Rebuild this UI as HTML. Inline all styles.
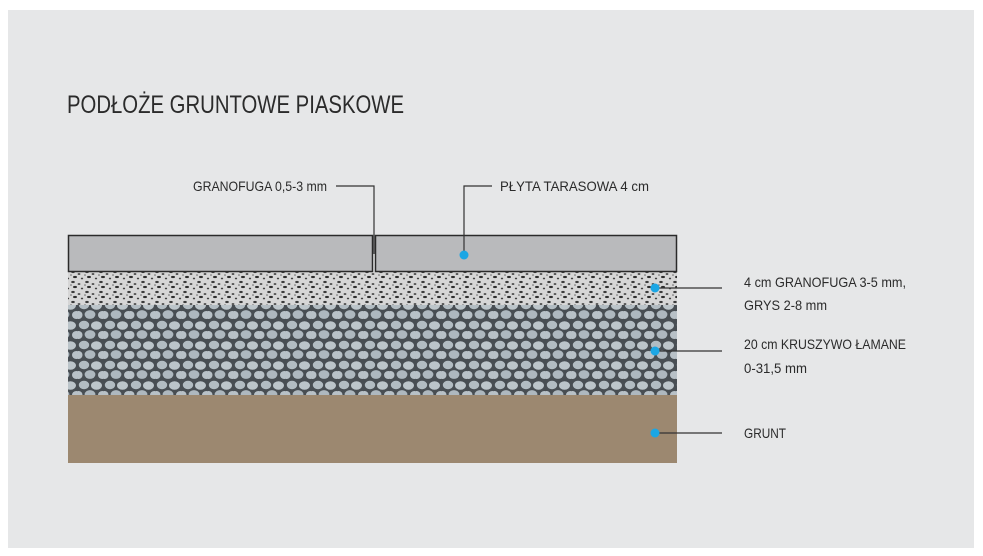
<!DOCTYPE html>
<html><head><meta charset="utf-8"><style>
html,body{margin:0;padding:0;background:#fff;}
svg{display:block}
text{font-family:"Liberation Sans",sans-serif;fill:#2b2b2b}
</style></head><body>
<svg width="983" height="556" viewBox="0 0 983 556" xmlns="http://www.w3.org/2000/svg">
<defs>
<pattern id="fine" width="14" height="10" patternUnits="userSpaceOnUse">
<rect width="14" height="10" fill="#d6d6d6"/>
<ellipse cx="3" cy="2" rx="1.8" ry="1.1" fill="#3a3a3a"/>
<ellipse cx="9" cy="4" rx="1.4" ry="1" fill="#555"/>
<ellipse cx="5" cy="7" rx="2" ry="1.1" fill="#2e2e2e"/>
<ellipse cx="12" cy="8.5" rx="1.2" ry="0.9" fill="#444"/>
<circle cx="1" cy="5" r="0.8" fill="#666"/>
</pattern>
<pattern id="coarse" width="26" height="20" patternUnits="userSpaceOnUse">
<rect width="26" height="20" fill="#484e53"/>
<ellipse cx="6" cy="5" rx="5.2" ry="4.2" fill="#b2bcc2"/>
<ellipse cx="18.5" cy="5.5" rx="5.5" ry="4.3" fill="#bcc5ca"/>
<ellipse cx="12" cy="14.5" rx="5.4" ry="4.4" fill="#aeb8bf"/>
<ellipse cx="24.5" cy="15" rx="4.5" ry="4" fill="#b8c1c7"/>
<ellipse cx="0.5" cy="15" rx="4" ry="4" fill="#b8c1c7"/>
</pattern>
</defs>
<rect width="983" height="556" fill="#fff"/>
<rect x="8" y="10" width="966" height="538" fill="#e6e7e8"/>
<text x="67" y="113" font-size="25" textLength="337" lengthAdjust="spacingAndGlyphs">PODŁOŻE GRUNTOWE PIASKOWE</text>

<rect x="68" y="272" width="609" height="34" fill="url(#fine)"/>
<rect x="68" y="305" width="609" height="90" fill="url(#coarse)"/>
<rect x="68" y="395" width="609" height="68" fill="#9c8870"/>
<rect x="68.5" y="235.5" width="304" height="36" fill="#b9babc" stroke="#2a2a2a" stroke-width="1.5"/>
<rect x="375.5" y="235.5" width="301" height="36" fill="#b9babc" stroke="#2a2a2a" stroke-width="1.5"/>

<g stroke="#333" stroke-width="1.2" fill="none">
<polyline points="336,186 374,186 374,254"/>
<polyline points="492,186 464,186 464,255"/>
<line x1="655" y1="288" x2="722" y2="288"/>
<line x1="655" y1="351" x2="722" y2="351"/>
<line x1="655" y1="433" x2="722" y2="433"/>
</g>
<g fill="#1ba6e4">
<circle cx="464" cy="255" r="4.5"/>
<circle cx="655" cy="288" r="4.5"/>
<circle cx="655" cy="351" r="4.5"/>
<circle cx="655" cy="433" r="4.5"/>
</g>
<g font-size="14">
<text x="193" y="191" textLength="134" lengthAdjust="spacingAndGlyphs">GRANOFUGA 0,5-3 mm</text>
<text x="500" y="191" textLength="149" lengthAdjust="spacingAndGlyphs">PŁYTA TARASOWA 4 cm</text>
<text x="744" y="287" textLength="162" lengthAdjust="spacingAndGlyphs">4 cm GRANOFUGA 3-5 mm,</text>
<text x="744" y="310" textLength="83" lengthAdjust="spacingAndGlyphs">GRYS 2-8 mm</text>
<text x="744" y="349" textLength="162" lengthAdjust="spacingAndGlyphs">20 cm KRUSZYWO ŁAMANE</text>
<text x="744" y="373" textLength="63" lengthAdjust="spacingAndGlyphs">0-31,5 mm</text>
<text x="744" y="438" textLength="42" lengthAdjust="spacingAndGlyphs">GRUNT</text>
</g>
</svg>
</body></html>
